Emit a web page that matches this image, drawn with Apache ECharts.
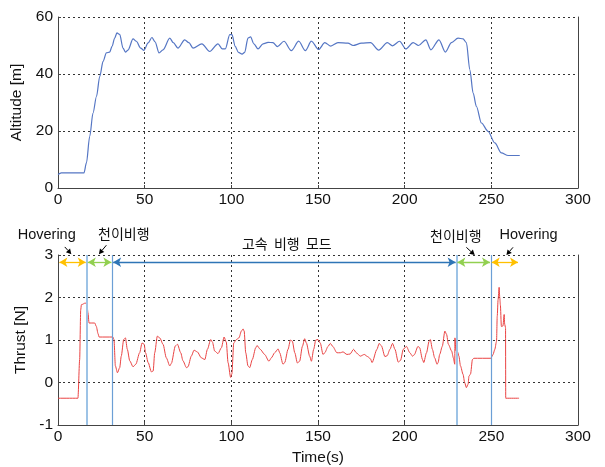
<!DOCTYPE html>
<html><head><meta charset="utf-8">
<script src="https://cdn.jsdelivr.net/npm/echarts@6/dist/echarts.min.js"></script>
<style>html,body{margin:0;padding:0;background:#fff}#c{width:605px;height:467px}</style>
</head><body><div id="c"></div>
<script>
// Altitude [m] vs time [s]
const altitude = [[0,4.7],[1.9,5.3],[15,5.3],[16.4,8.8],[18.3,18.1],[20.2,26.3],[22.2,32.1],[24.1,39.2],[26,44.4],[27.9,47.4],[29.8,47.7],[31.2,49.7],[32.7,52.6],[34,54.4],[35.6,53.9],[37.5,49.1],[38.9,47.7],[40.4,48.4],[43.3,52.3],[45.2,51.5],[47.7,49.1],[49.6,48.3],[52,50.9],[54.2,52.8],[56,51.3],[58.3,47.4],[60.6,48.5],[64.5,52.6],[66.5,51],[69.2,49.1],[73.1,52.0],[75.5,51],[77.9,49.1],[83,50.6],[87.5,47.9],[92.3,50.6],[94.8,48.8],[96.5,48.8],[99.1,53.8],[100.4,53.8],[102.2,49.7],[104.1,47.6],[106.2,47.0],[107.7,47.6],[109.6,52.6],[111.1,53.0],[113,50.6],[115.4,48.8],[118.3,50.6],[121.2,51.1],[124,51],[126.6,49.6],[130.4,51.5],[134.6,48.2],[138.9,51.5],[142.7,48.2],[146.2,51.5],[150.4,48.6],[153.9,51.0],[157.4,49.8],[161.5,51.0],[167.3,50.8],[170.2,50.0],[175.1,50.8],[180.3,51.0],[185,48.4],[190,51.0],[193,49.9],[197.1,51.5],[200.6,48.8],[204.9,51],[208,50],[212.2,52],[215.1,48.5],[219.8,52],[223.5,47.7],[227,51],[230.8,52.6],[233.7,52.3],[235.6,51],[237.6,41.5],[239.5,33.3],[241.4,28.6],[244.3,22.8],[248.1,19.9],[252,15.8],[255.8,12.3],[259.7,11.4],[266.4,11.4]];

// Thrust [N] vs time [s]
const thrust = [[0,-0.37],[11.5,-0.37],[12.5,0.54],[13.1,1.71],[13.5,1.83],[15.8,1.87],[16.7,1.83],[17.3,1.64],[17.9,1.40],[21.2,1.40],[22.1,1.32],[23.1,1.15],[23.7,1.07],[31.7,1.07],[32.3,1.01],[33.1,0.39],[34.3,0.23],[35.6,0.35],[36.5,0.62],[37.9,1.01],[38.9,1.05],[40,0.78],[41.4,0.51],[43.3,0.37],[44.9,0.43],[47.1,0.7],[48.5,0.93],[49.7,0.9],[50.5,0.7],[52,0.47],[53.9,0.25],[54.9,0.27],[55.8,0.7],[57.3,1.09],[58.7,1.05],[60.6,0.9],[62.5,0.58],[64.5,0.39],[65.4,0.45],[67.7,0.86],[68.9,0.9],[70.8,0.7],[72.1,0.51],[74.1,0.35],[75,0.37],[76.9,0.62],[78.5,0.76],[80.4,0.72],[82.7,0.58],[84.7,0.54],[86.2,0.78],[88.1,1.01],[89.1,0.95],[90.4,0.74],[92.3,0.68],[94.3,0.82],[95.8,1.07],[97.1,0.95],[98.1,0.47],[99.6,0.12],[100.3,0.2],[101.4,0.93],[102.9,1.01],[104.4,1.05],[105.8,1.21],[106.8,1.26],[107.4,1.21],[108.3,0.70],[109.6,0.39],[110.6,0.35],[112.1,0.54],[114.1,0.82],[114.8,0.87],[116.7,0.78],[119.2,0.66],[121.7,0.50],[123.1,0.58],[125,0.70],[127,0.79],[127.9,0.70],[129.8,0.43],[130.8,0.47],[132.7,0.78],[134.1,1.0],[135.2,0.97],[136.6,0.70],[138.1,0.46],[139.4,0.5],[141,0.85],[142.3,1.03],[143.3,0.93],[145.2,0.62],[146.2,0.5],[147.5,0.78],[148.7,1.0],[150,1.01],[151.3,0.93],[152.9,0.66],[153.9,0.70],[155.8,0.85],[157.1,0.92],[158.5,0.85],[160.9,0.70],[162.9,0.70],[164.4,0.72],[166.7,0.66],[168.5,0.67],[170.5,0.78],[172.1,0.70],[174.4,0.62],[176.7,0.66],[178.6,0.61],[180.2,0.56],[181.2,0.47],[184,0.78],[185.3,0.92],[186.6,0.86],[188.6,0.61],[189.9,0.63],[191.5,0.78],[193,0.92],[194.4,0.78],[196.3,0.48],[197.6,0.52],[199.2,0.78],[201,0.85],[203,0.7],[204.5,0.62],[205.5,0.65],[207.7,0.85],[208.6,0.82],[210.3,0.54],[211,0.47],[212.6,0.7],[214.1,0.97],[214.8,1.01],[216,0.78],[217.3,0.58],[218.7,0.43],[219.3,0.47],[220.2,0.66],[221.7,0.85],[223.2,1.21],[224.2,1.13],[225.2,0.9],[227.1,0.74],[228.1,0.58],[228.9,0.43],[229,1.05],[229.6,0.74],[230.5,0.72],[231.3,0.62],[232.2,0.39],[233.7,0.19],[234.6,0.0],[235.6,-0.12],[236.6,-0.04],[237.1,0.15],[238,0.2],[239.1,0.54],[239.9,0.57],[249.7,0.57],[251,0.66],[252,0.78],[253,0.97],[253.4,1.56],[253.9,1.95],[254.5,2.24],[254.9,1.98],[255.2,1.83],[255.8,1.32],[256.7,1.33],[257.4,1.6],[257.7,1.37],[258.2,1.29],[258.3,-0.37],[266,-0.37]];

// flight phase boundaries [s]
const phaseLines = [16.7, 31.4, 229.9, 249.7];
const phaseLineColors = ['#9dc3e6', '#6c9fd6', '#9dc3e6', '#6c9fd6'];
// phase span arrows [start, end, colour]
const phaseSpans = [[0.8, 16.0, '#ffc000'], [17.2, 30.8, '#92d050'], [31.8, 229.4, '#2e75b6'], [230.4, 249.2, '#92d050'], [250.2, 265.4, '#ffc000']];
const spanLevel = 2.83;
// pointer arrows from labels to spans [[t0,N0],[t1,N1]]
const pointers = [[[3.9, 3.19], [7.7, 3.02]], [[27.9, 3.23], [23.6, 3.02]], [[235.6, 3.18], [240.4, 3.0]], [[262.5, 3.18], [258.7, 3.0]]];
// phase labels [text, t, N]
const phaseLabels = [['Hovering', -6.5, 3.48], ['천이비행', 38.0, 3.50], ['고속  비행  모드', 132, 3.27], ['천이비행', 229.5, 3.46], ['Hovering', 271.5, 3.46]];

const xTicks = {min: 0, max: 300, interval: 50};
const altTicks = {min: 0, max: 60, interval: 20};
const thrTicks = {min: -1, max: 3, interval: 1};

const FS = 15.5;
const tickFont = {fontFamily: 'Liberation Sans, Arial, sans-serif', fontSize: FS, color: '#111'};
const nameFont = {fontFamily: 'Liberation Sans, Arial, sans-serif', fontSize: FS, color: '#111'};
const gridLine = {show: true, lineStyle: {color: '#333', width: 1, type: [2, 3]}};
const axLine = {show: true, onZero: false, lineStyle: {color: '#444', width: 1}};

function xAxis(idx, name) {
  return {type: 'value', gridIndex: idx, ...xTicks, axisLine: axLine,
    axisTick: {show: true, inside: true, length: 3, lineStyle: {color: '#444'}},
    axisLabel: {...tickFont, margin: 4}, splitLine: gridLine,
    name: name || '', nameLocation: 'middle', nameGap: 25, nameTextStyle: nameFont};
}
function yAxis(idx, ticks, name, gap) {
  return {type: 'value', gridIndex: idx, ...ticks, axisLine: axLine,
    axisTick: {show: true, inside: true, length: 3, lineStyle: {color: '#444'}},
    axisLabel: {...tickFont, margin: 5}, splitLine: gridLine,
    name: name, nameLocation: 'middle', nameGap: gap, nameRotate: 90, nameTextStyle: nameFont};
}
function yRight(idx, ticks) {
  return {type: 'value', gridIndex: idx, position: 'right', ...ticks, axisLine: axLine,
    axisTick: {show: false}, axisLabel: {show: false}, splitLine: {show: false}};
}

const markLines = [];
phaseLines.forEach((t, i) => markLines.push({xAxis: t,
  lineStyle: {color: phaseLineColors[i], width: i % 2 === 0 ? 2 : 1.2, type: 'solid'}}));
phaseSpans.forEach(s => markLines.push([
  {coord: [s[0], spanLevel], symbol: 'arrow', symbolSize: [7, 8], lineStyle: {color: s[2], width: 1.3, type: 'solid'}},
  {coord: [s[1], spanLevel], symbol: 'arrow', symbolSize: [7, 8]}]));

const chart = echarts.init(document.getElementById('c'), null, {renderer: 'canvas'});
chart.setOption({
  animation: false,
  backgroundColor: '#fff',
  grid: [
    {left: 58, top: 17, width: 520, height: 171},
    {left: 58, top: 255, width: 520, height: 171}
  ],
  xAxis: [xAxis(0), xAxis(1, 'Time(s)')],
  yAxis: [yAxis(0, altTicks, 'Altitude [m]', 31), yAxis(1, thrTicks, 'Thrust [N]', 25), yRight(0, altTicks), yRight(1, thrTicks)],
  series: [
    {type: 'line', xAxisIndex: 0, yAxisIndex: 0, data: altitude, showSymbol: false, smooth: 0.3, smoothMonotone: 'x',
      lineStyle: {color: '#5576c4', width: 1.2}},
    {type: 'line', xAxisIndex: 1, yAxisIndex: 1, data: thrust, showSymbol: false, smooth: 0.25, smoothMonotone: 'x',
      lineStyle: {color: '#ea4343', width: 1},
      markLine: {silent: true, animation: false, symbol: ['none', 'none'], label: {show: false}, emphasis: {disabled: true}, data: markLines}}
  ]
});

// annotations placed in data coordinates (outside the plot area, so as graphics)
const toPx = p => chart.convertToPixel({xAxisIndex: 1, yAxisIndex: 1}, p);
const gfx = [];
phaseLabels.forEach(l => {
  const p = toPx([l[1], l[2]]);
  const kr = /[가-힣]/.test(l[0]);
  gfx.push({type: 'text', silent: true, style: {text: l[0], x: p[0], y: p[1],
    font: kr ? '14px "Noto Sans CJK KR", sans-serif' : '14.5px "Liberation Sans", Arial, sans-serif',
    fill: '#111', textAlign: 'center', textVerticalAlign: 'middle'}});
});
pointers.forEach(pt => {
  const a = toPx(pt[0]), b = toPx(pt[1]);
  const dx = b[0] - a[0], dy = b[1] - a[1], L = Math.hypot(dx, dy);
  const ux = dx / L, uy = dy / L, h = 5, w = 2.8;
  const base = [b[0] - ux * h, b[1] - uy * h];
  gfx.push({type: 'line', silent: true, shape: {x1: a[0], y1: a[1], x2: base[0], y2: base[1]}, style: {stroke: '#000', lineWidth: 1}});
  gfx.push({type: 'polygon', silent: true, shape: {points: [b, [base[0] - uy * w, base[1] + ux * w], [base[0] + uy * w, base[1] - ux * w]]}, style: {fill: '#000'}});
});
chart.setOption({graphic: gfx});
</script></body></html>
